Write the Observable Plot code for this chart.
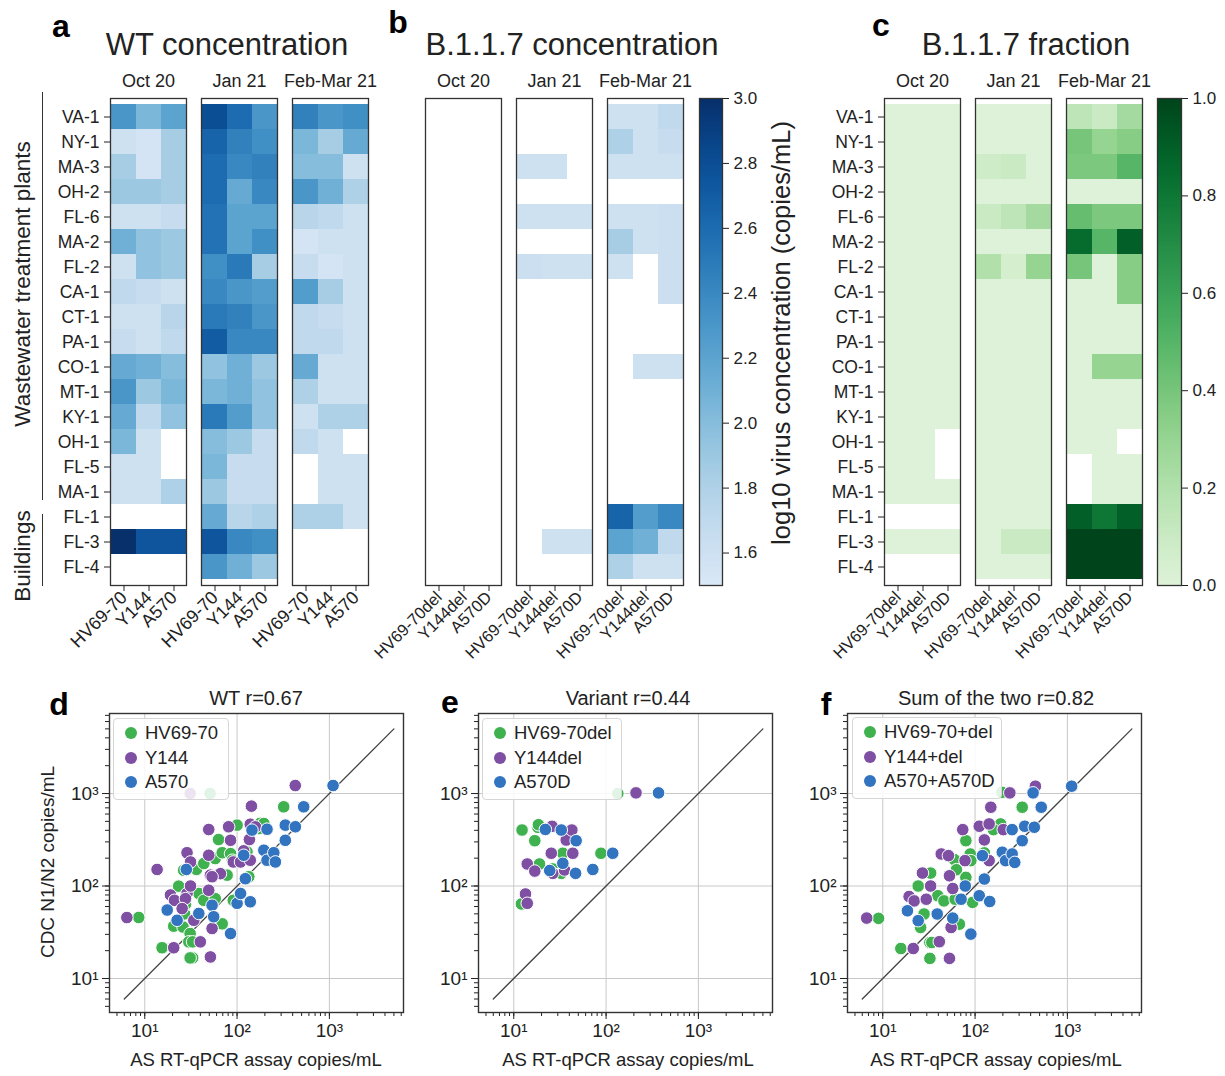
<!DOCTYPE html>
<html><head><meta charset="utf-8">
<script src="https://cdn.jsdelivr.net/npm/d3@7"></script>
<script src="https://cdn.jsdelivr.net/npm/@observablehq/plot@0.6"></script>
<style>
html,body{margin:0;padding:0;background:#fff;}
#fig{position:relative;width:1225px;height:1076px;overflow:hidden;font-family:"Liberation Sans",Arial,Helvetica,sans-serif;color:#222;}
#fig svg{position:absolute;overflow:visible;}
.t{position:absolute;line-height:1;white-space:nowrap;transform:translate(-50%,-50%);}
.rot{transform:translate(-50%,-50%) rotate(-90deg);}
.leg{position:absolute;background:rgba(255,255,255,0.85);border:1px solid #d6d6d6;border-radius:4px;box-sizing:border-box;}
.leg .item{position:absolute;line-height:1;font-size:18.5px;white-space:nowrap;transform:translateY(-50%);color:#222;}
.leg .dot{position:absolute;width:12px;height:12px;border-radius:50%;transform:translate(-50%,-50%);}
.vline{position:absolute;border-left:1.5px solid #333;width:0;}
</style></head><body><div id="fig"></div>
<script>
// ---------------- DATA ----------------
const sites = ["VA-1","NY-1","MA-3","OH-2","FL-6","MA-2","FL-2","CA-1","CT-1","PA-1","CO-1","MT-1","KY-1","OH-1","FL-5","MA-1","FL-1","FL-3","FL-4"];
const periods = ["Oct 20","Jan 21","Feb-Mar 21"];
const wtAssays = ["HV69-70","Y144","A570"];
const varAssays = ["HV69-70del","Y144del","A570D"];
const _ = null;

// a: WT concentration (log10 copies/mL), rows = sites, cols = assays
const wtOct = [[2.3,2.05,2.2],[1.6,1.55,1.85],[1.85,1.55,1.85],[1.9,1.9,1.85],[1.6,1.6,1.65],[2.1,1.95,1.9],[1.6,1.95,1.9],[1.7,1.65,1.6],[1.6,1.6,1.75],[1.65,1.6,1.7],[2.15,2.1,2.0],[2.3,1.9,2.05],[2.15,1.7,1.95],[2.05,1.6,_],[1.6,1.6,_],[1.6,1.6,1.8],[_,_,_],[3.0,2.75,2.75],[_,_,_]];
const wtJan = [[2.8,2.6,2.3],[2.65,2.45,2.35],[2.6,2.4,2.45],[2.6,2.15,2.4],[2.55,2.2,2.2],[2.55,2.2,2.35],[2.35,2.5,1.85],[2.4,2.3,2.25],[2.5,2.45,2.3],[2.7,2.4,2.4],[1.95,2.1,1.9],[2.05,2.1,1.95],[2.5,2.25,1.95],[2.0,1.9,1.65],[2.05,1.65,1.65],[1.9,1.65,1.65],[2.15,1.75,1.8],[2.75,2.4,2.35],[2.3,2.1,1.9]];
const wtFeb = [[2.45,2.3,2.35],[2.05,1.85,2.15],[2.0,2.0,1.6],[2.3,2.1,1.8],[1.75,1.7,1.6],[1.55,1.6,1.6],[1.65,1.55,1.6],[2.25,1.85,1.6],[1.7,1.65,1.6],[1.7,1.7,1.6],[2.15,1.6,1.6],[1.8,1.6,1.6],[1.6,1.8,1.8],[1.7,1.6,_],[_,1.6,1.6],[_,1.6,1.6],[1.8,1.8,1.6],[_,_,_],[_,_,_]];

// b: B.1.1.7 concentration (log10 copies/mL)
const varOct = sites.map(() => [_,_,_]);
const varJan = [[_,_,_],[_,_,_],[1.6,1.6,_],[_,_,_],[1.6,1.6,1.6],[_,_,_],[1.62,1.6,1.6],[_,_,_],[_,_,_],[_,_,_],[_,_,_],[_,_,_],[_,_,_],[_,_,_],[_,_,_],[_,_,_],[_,_,_],[_,1.6,1.6],[_,_,_]];
const varFeb = [[1.6,1.6,1.7],[1.8,1.6,1.65],[1.6,1.6,1.6],[_,_,_],[1.6,1.6,1.62],[1.85,1.6,1.62],[1.6,_,1.62],[_,_,1.62],[_,_,_],[_,_,_],[_,1.6,1.6],[_,_,_],[_,_,_],[_,_,_],[_,_,_],[_,_,_],[2.65,2.25,2.4],[2.2,2.1,1.7],[1.8,1.6,1.6]];

// c: B.1.1.7 fraction
const fracOct = [[0,0,0],[0,0,0],[0,0,0],[0,0,0],[0,0,0],[0,0,0],[0,0,0],[0,0,0],[0,0,0],[0,0,0],[0,0,0],[0,0,0],[0,0,0],[0,0,_],[0,0,_],[0,0,0],[_,_,_],[0,0,0],[_,_,_]];
const fracJan = [[0,0,0],[0,0,0],[0.08,0.1,0],[0,0,0],[0.1,0.15,0.25],[0,0,0],[0.2,0.05,0.3],[0,0,0],[0,0,0],[0,0,0],[0,0,0],[0,0,0],[0,0,0],[0,0,0],[0,0,0],[0,0,0],[0,0,0],[0,0.1,0.1],[0,0,0]];
const fracFeb = [[0.15,0.1,0.25],[0.4,0.3,0.35],[0.38,0.38,0.5],[0,0,0],[0.45,0.38,0.38],[0.85,0.5,0.9],[0.4,0,0.35],[0,0,0.35],[0,0,0],[0,0,0],[0,0.3,0.3],[0,0,0],[0,0,0],[0,0,_],[_,0,0],[_,0,0],[0.9,0.8,0.9],[1,1,1],[1,1,1]];

const concTicks = [1.6,1.8,2.0,2.2,2.4,2.6,2.8,3.0];
const fracTicks = [0.0,0.2,0.4,0.6,0.8,1.0];

// d: WT  (x = AS RT-qPCR copies/mL, y = CDC N1/N2 copies/mL)
const wtHV = [[8.6,45.7],[15.4,21.5],[20.6,36.8],[26,36],[27,50],[27.6,63.6],[31,30.6],[30,24.9],[33,24.9],[33,16.7],[31,16.7],[23.3,99.6],[26.4,148],[36.3,151],[38.5,83],[43.6,175],[43.6,70],[58,198],[63,318],[58,73],[69,39],[69,229],[78,131],[85,224],[89,190],[91,70],[100,455],[178,475],[128,234],[134,126],[172,418],[195,474],[320,718],[51,1000]];
const wtY = [[6.4,45.6],[13.6,151],[19,80],[21,70],[20.6,21.5],[28.7,229],[28.7,83],[27.6,73],[31.3,182],[31.3,100],[34,42.6],[40,24.9],[49.3,408],[49.3,215],[51.4,131],[49.3,90],[53.6,34.7],[51.4,17.1],[66,136],[81,437],[85,312],[91,182],[109,182],[118,240],[136,318],[143,730],[139,466],[158,436],[139,190],[427,1220],[53.6,126],[25.4,57],[31,1000]];
const wtA = [[17.5,55],[22.4,42.6],[28.2,151],[38.5,50.5],[53.6,62],[55.8,46.5],[85,30.6],[100,65],[109,83],[123,120],[118,215],[139,67.5],[145,402],[211,411],[195,244],[211,190],[250,229],[260,182],[333,455],[333,312],[428,437],[527,718],[1096,1220]];

// e: Variant
const varHV = [[12.1,64],[12.3,403],[16.9,309],[18.3,431],[18.5,460],[19,173],[26.5,153],[32.7,137],[34,226],[88,226],[134,1000]];
const varY = [[13.4,82],[14,65],[14,173],[16.9,145],[25.5,226],[26,442],[26.5,137],[35.5,149],[37,314],[42.6,403],[43.6,226],[211,1016]];
const varA = [[22,409],[24.5,147],[32.7,403],[34,176],[47.4,309],[46.7,137],[71.8,151],[118,226],[370,1016]];

// f: Sum of the two
const sumHV = [[9,44.7],[15.7,21.1],[25.7,35.6],[28,49.8],[32.4,24.5],[34,24.5],[32.4,16.5],[24.2,100],[33,138],[39.5,78.5],[46,69],[59.7,193],[62.8,150],[60.8,72],[67.6,38.7],[79.5,309],[79.5,124],[88.7,222],[90,188],[94,66.5],[189,469],[158,407],[324,711],[126,228],[195,1030]];
const sumY = [[6.7,45],[21.4,21.1],[19.3,77],[21.9,69],[26.9,138],[29.6,72],[33,100],[41,25],[43,222],[51.5,213],[52.8,129],[55,35.6],[52.8,16.5],[57.3,94],[73.5,407],[77.8,188],[111,443],[126,315],[142,469],[148,711],[142,188],[202,407],[238,1016],[450,1200]];
const sumA = [[18.5,54],[24.2,42.2],[38.9,49.8],[57.3,45],[70.5,72],[90,30.2],[78.3,100],[111,78.5],[126,119],[120,213],[144,68],[197,232],[214,188],[252,407],[252,222],[269,180],[345,443],[324,309],[438,432],[521,711],[1112,1200],[425,1016]];

const identityLine = [6, 5000];
const decades = [10, 100, 1000];

// ---------------- STYLE ----------------
const FONT = '"Liberation Sans", Arial, Helvetica, sans-serif';
const GREEN = "#3fb24f", PURPLE = "#7e4fa2", BLUE = "#3374c0";
const blues = {type: "linear", domain: [1.5, 3], clamp: true, interpolate: t => d3.interpolateBlues(0.15 + 0.85 * t)};
const greens = {type: "linear", domain: [0, 1], clamp: true, interpolate: t => d3.interpolateGreens(0.15 + 0.85 * t)};

const fig = document.getElementById("fig");
function place(node, left, top) { node.style.left = left + "px"; node.style.top = top + "px"; fig.appendChild(node); }
function text(str, x, y, size, opts = {}) {
  const d = document.createElement("div");
  d.className = "t" + (opts.rotate ? " rot" : "");
  d.textContent = str;
  d.style.fontSize = size + "px";
  if (opts.bold) { d.style.fontWeight = "bold"; d.style.color = "#000"; }
  place(d, x, y);
}
function vline(x, y1, y2) { const d = document.createElement("div"); d.className = "vline"; d.style.height = (y2 - y1) + "px"; place(d, x, y1); }

// ---------------- HEATMAPS ----------------
function heatmap(tables, assays, color, {left, width, mLeft, mRight, showY, xFont}) {
  const data = [];
  periods.forEach((p, pi) => tables[pi].forEach((vals, si) => vals.forEach((v, ai) => {
    if (v != null) data.push({period: p, site: sites[si], assay: assays[ai], value: v});
  })));
  const svg = Plot.plot({
    width, height: 615, marginLeft: mLeft, marginRight: mRight, marginTop: 38, marginBottom: 90,
    style: {fontFamily: FONT, fontSize: "17.5px", color: "#222", background: "transparent"},
    fx: {domain: periods, paddingInner: 0.16, paddingOuter: 0},
    x: {domain: assays, padding: 0},
    y: {domain: sites, padding: 0, axis: showY ? undefined : null},
    color,
    marks: [
      Plot.cell(data, {fx: "period", x: "assay", y: "site", fill: "value", inset: 0}),
      Plot.text(periods, {fx: d => d, text: () => "", frameAnchor: "middle"}),
      Plot.frame({stroke: "#333", strokeWidth: 1.3}),
      Plot.axisFx({anchor: "top", tickSize: 0, tickPadding: 12, label: null, fontSize: 18}),
      Plot.axisX({anchor: "bottom", tickRotate: -45, tickSize: 6, tickPadding: 3, label: null, fontSize: xFont}),
      showY ? Plot.axisY({anchor: "left", tickSize: 6, tickPadding: 5, label: null, fontSize: 17.5}) : null
    ]
  });
  place(svg, left, 60);
}
function colorbar(color, ticks, {left, width, mRight}) {
  const [lo, hi] = color.domain;
  const step = (hi - lo) / 240;
  const bands = d3.range(lo, hi - step / 2, step);
  const svg = Plot.plot({
    width, height: 615, marginLeft: 9, marginRight: mRight, marginTop: 38, marginBottom: 90,
    style: {fontFamily: FONT, fontSize: "17px", color: "#222", background: "transparent"},
    x: {domain: [0, 1], axis: null},
    y: {domain: [lo, hi], axis: "right", ticks, tickFormat: d3.format(".1f"), tickSize: 6, tickPadding: 5, label: null},
    color,
    marks: [
      Plot.rect(bands, {x1: 0, x2: 1, y1: d => d, y2: d => d + step, fill: d => d + step / 2, stroke: d => d + step / 2, strokeWidth: 0.8, shapeRendering: "crispEdges"}),
      Plot.frame({stroke: "#333", strokeWidth: 1.3})
    ]
  });
  place(svg, left, 60);
}

heatmap([wtOct, wtJan, wtFeb], wtAssays, blues, {left: 0, width: 390, mLeft: 109, mRight: 21, showY: true, xFont: 18});
heatmap([varOct, varJan, varFeb], varAssays, blues, {left: 390, width: 300, mLeft: 34, mRight: 5, showY: false, xFont: 16.5});
colorbar(blues, concTicks, {left: 690, width: 82, mRight: 50});
heatmap([fracOct, fracJan, fracFeb], varAssays, greens, {left: 790, width: 360, mLeft: 93, mRight: 7, showY: true, xFont: 16.5});
colorbar(greens, fracTicks, {left: 1148, width: 77, mRight: 44});

// ---------------- SCATTERS ----------------
const sup = {1: "\u00b9", 2: "\u00b2", 3: "\u00b3"};
const decFmt = d => "10" + sup[Math.round(Math.log10(d))];
const xDom = [4.15, 6350], yDom = [4.29, 7330];
const minorX = d3.scaleLog().domain(xDom).ticks();
const minorY = d3.scaleLog().domain(yDom).ticks();

function scatter(series, left) {
  const pts = series.flatMap(s => s.values.map(([x, y]) => ({x, y, c: s.color})));
  const svg = Plot.plot({
    width: 420, height: 376, marginLeft: 109, marginRight: 17, marginTop: 13, marginBottom: 64,
    style: {fontFamily: FONT, fontSize: "19px", color: "#222", background: "transparent"},
    x: {type: "log", domain: xDom},
    y: {type: "log", domain: yDom},
    marks: [
      Plot.gridX(decades, {stroke: "#c8c8c8", strokeOpacity: 1, strokeWidth: 1}),
      Plot.gridY(decades, {stroke: "#c8c8c8", strokeOpacity: 1, strokeWidth: 1}),
      Plot.axisX(minorX, {tickSize: 4, tickFormat: () => "", label: null}),
      Plot.axisX(decades, {tickSize: 7, tickPadding: 4, tickFormat: decFmt, label: null}),
      Plot.axisY(minorY, {tickSize: 4, tickFormat: () => "", label: null}),
      Plot.axisY(decades, {tickSize: 7, tickPadding: 4, tickFormat: decFmt, label: null}),
      Plot.line(identityLine, {x: d => d, y: d => d, stroke: "#444", strokeWidth: 1.3}),
      Plot.dot(pts, {x: "x", y: "y", fill: "c", stroke: "white", strokeWidth: 1, r: 6.3}),
      Plot.frame({stroke: "#333", strokeWidth: 1.4})
    ]
  });
  place(svg, left, 700);
}
function legend(left, top, width, items) {
  const box = document.createElement("div");
  box.className = "leg";
  box.style.width = width + "px"; box.style.height = "82px";
  items.forEach(([label, color], i) => {
    const cy = 14 + 24.5 * i;
    const dot = document.createElement("div"); dot.className = "dot";
    dot.style.background = color; dot.style.left = "17px"; dot.style.top = cy + "px";
    const t = document.createElement("div"); t.className = "item"; t.textContent = label;
    t.style.left = "31px"; t.style.top = cy + "px";
    box.appendChild(dot); box.appendChild(t);
  });
  place(box, left, top);
}

scatter([{values: wtHV, color: GREEN}, {values: wtY, color: PURPLE}, {values: wtA, color: BLUE}], 0);
scatter([{values: varHV, color: GREEN}, {values: varY, color: PURPLE}, {values: varA, color: BLUE}], 369);
scatter([{values: sumHV, color: GREEN}, {values: sumY, color: PURPLE}, {values: sumA, color: BLUE}], 738);

legend(113, 718, 116, [["HV69-70", GREEN], ["Y144", PURPLE], ["A570", BLUE]]);
legend(482, 718, 140, [["HV69-70del", GREEN], ["Y144del", PURPLE], ["A570D", BLUE]]);
legend(852, 717, 150, [["HV69-70+del", GREEN], ["Y144+del", PURPLE], ["A570+A570D", BLUE]]);

// ---------------- TEXT ----------------
text("a", 61, 26, 32, {bold: true});
text("b", 398, 22, 32, {bold: true});
text("c", 881, 25, 32, {bold: true});
text("WT concentration", 227, 44, 31);
text("B.1.1.7 concentration", 572, 44, 31);
text("B.1.1.7 fraction", 1026, 44, 31);
text("log10 virus concentration (copies/mL)", 782, 333, 25.5, {rotate: true});
text("Wastewater treatment plants", 23, 284, 22.5, {rotate: true});
text("Buildings", 23, 556, 22.5, {rotate: true});
vline(42, 92, 500);
vline(42, 514, 586);

text("d", 59, 704, 32, {bold: true});
text("e", 450, 702, 32, {bold: true});
text("f", 826, 704, 32, {bold: true});
text("WT r=0.67", 256, 698, 20);
text("Variant  r=0.44", 628, 698, 20);
text("Sum of the two r=0.82", 996, 698, 20);
text("AS RT-qPCR assay copies/mL", 256, 1060, 18.5);
text("AS RT-qPCR assay copies/mL", 628, 1060, 18.5);
text("AS RT-qPCR assay copies/mL", 996, 1060, 18.5);
text("CDC N1/N2 copies/mL", 47, 862, 19, {rotate: true});
</script></body></html>
